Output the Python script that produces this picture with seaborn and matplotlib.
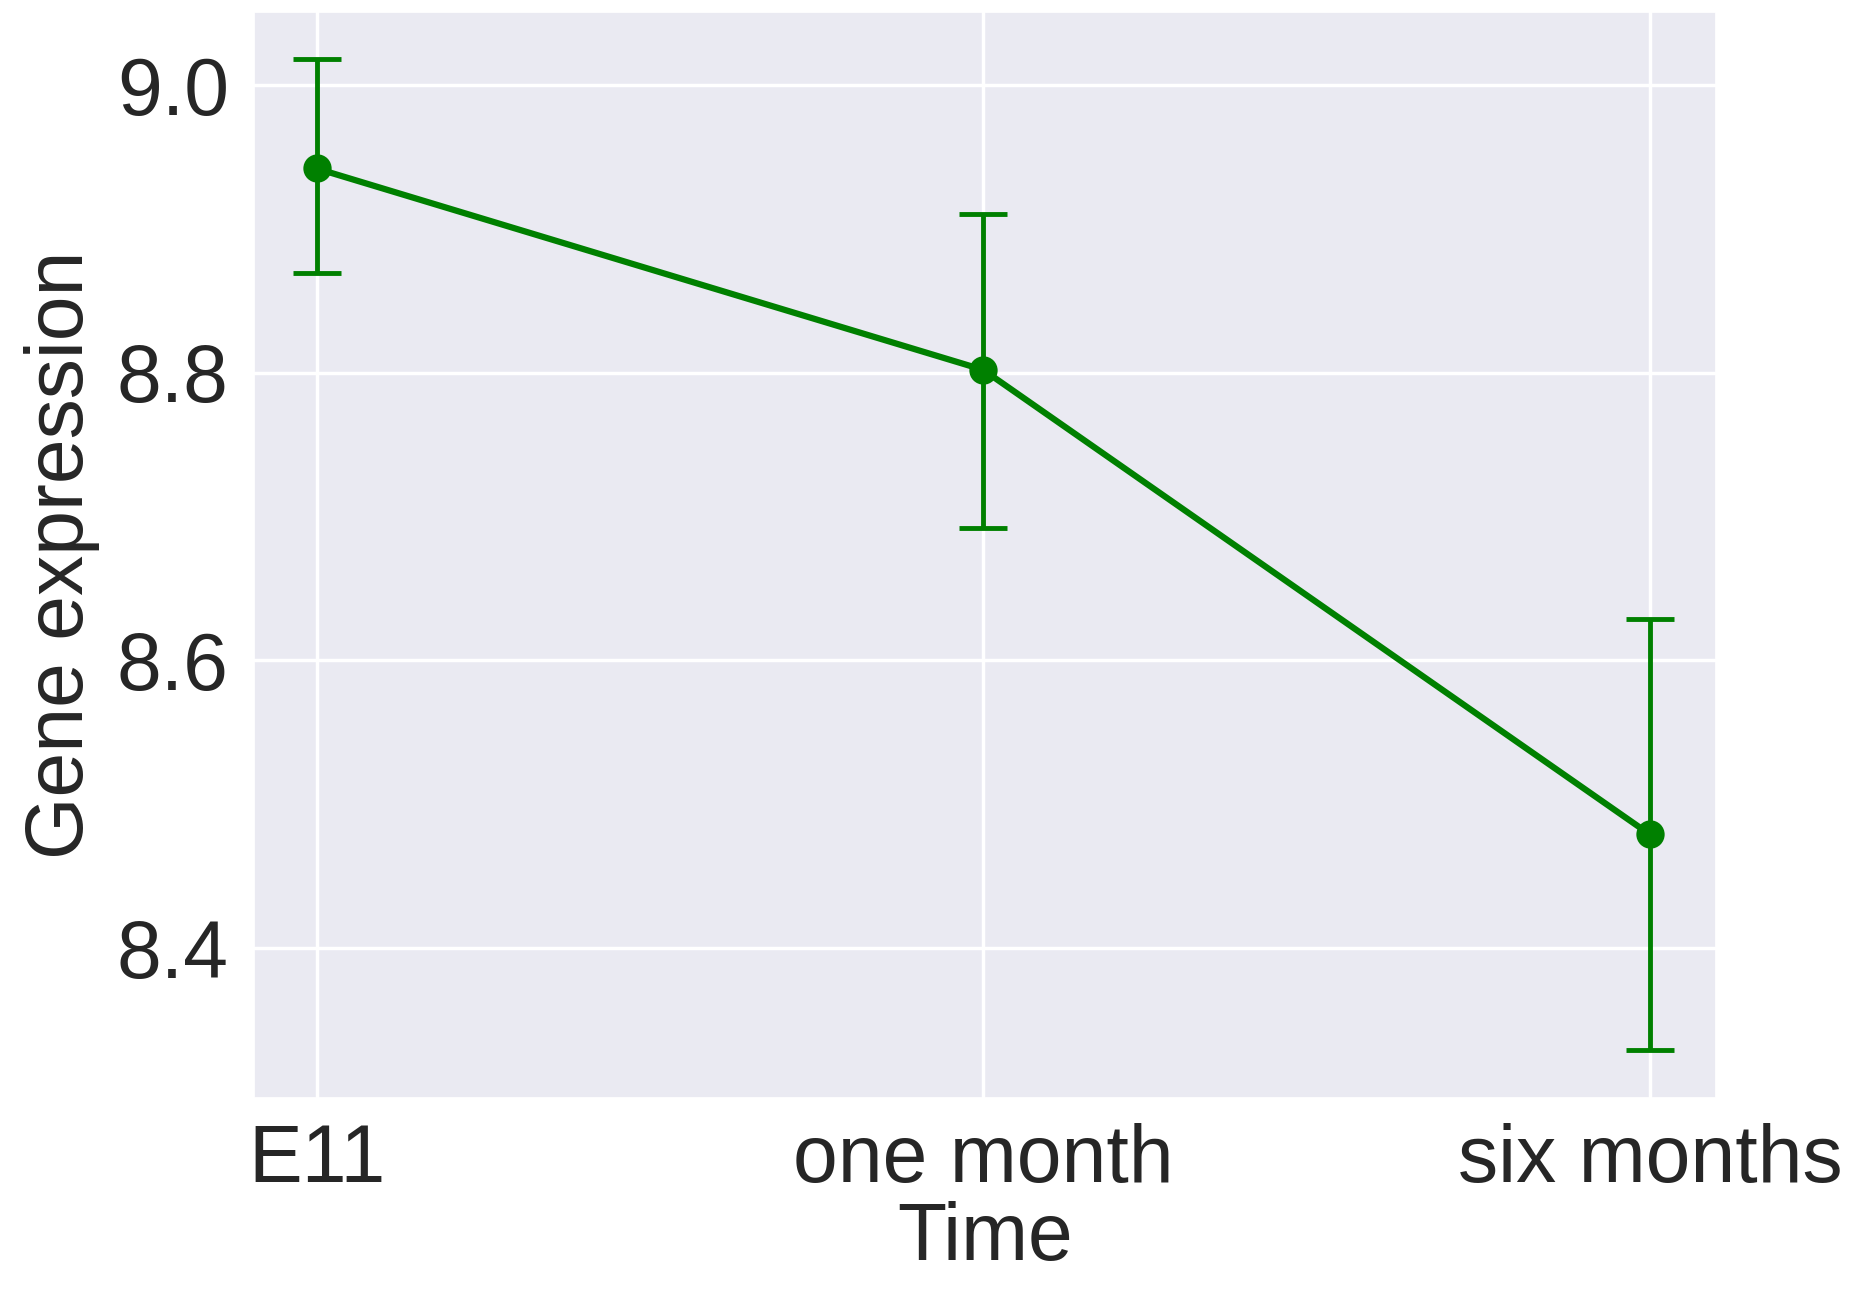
import matplotlib
matplotlib.use("Agg")
import matplotlib.pyplot as plt
import seaborn as sns
import pandas as pd
import numpy as np

sns.set_theme(style="darkgrid")
plt.rcParams["font.family"] = ["Arial", "Liberation Sans", "DejaVu Sans"]

times = ["E11", "one month", "six months"]
means = [8.942, 8.802, 8.479]
upper = [9.018, 8.910, 8.629]
lower = [8.869, 8.692, 8.329]

data = pd.DataFrame({"Time": times, "Gene expression": means})

fig = plt.figure(figsize=(18.53, 12.96), dpi=100)
ax = fig.add_axes([0.137, 0.153, 0.789, 0.838])

sns.pointplot(data=data, x="Time", y="Gene expression", color="green",
              errorbar=None, markersize=17, linewidth=4.5, ax=ax)
x = np.arange(len(times))
m = np.array(means)
ax.errorbar(x, m, yerr=[m - np.array(lower), np.array(upper) - m], fmt="none",
            ecolor="green", elinewidth=3.5, capsize=17, capthick=3.5)

ax.set_xlim(-0.094, 2.099)
ax.set_ylim(8.296, 9.051)
ax.set_yticks([8.4, 8.6, 8.8, 9.0])
ax.grid(color="white", linewidth=2.5)
ax.tick_params(labelsize=58, pad=12)
ax.set_xlabel("Time", fontsize=58, labelpad=2)
ax.set_ylabel("Gene expression", fontsize=58, labelpad=12)

fig.savefig("out.png", dpi=100)
